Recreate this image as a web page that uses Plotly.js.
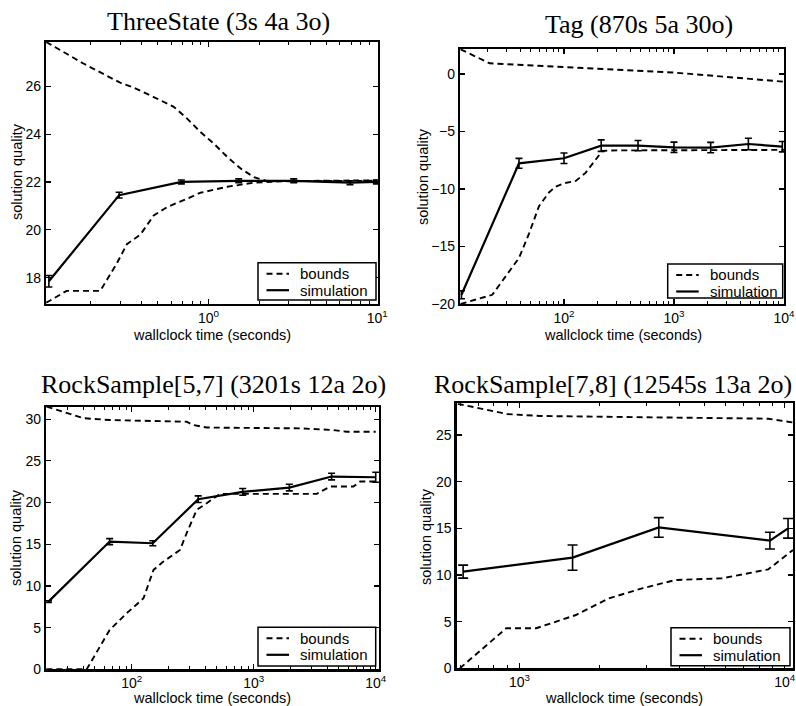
<!DOCTYPE html>
<html>
<head>
<meta charset="utf-8">
<script src="https://cdn.plot.ly/plotly-3.0.1.min.js"></script>
<style>html,body{margin:0;padding:0;background:#fff;}#chart{width:796px;height:706px;}</style>
</head>
<body>
<div id="chart"></div>
<script>
// ---------- DATA ----------
const titles = ["ThreeState (3s 4a 3o)", "Tag (870s 5a 30o)", "RockSample[5,7] (3201s 12a 2o)", "RockSample[7,8] (12545s 13a 2o)"];
const seriesNames = ["bounds", "simulation"];
const xAxisLabel = "wallclock time (seconds)";
const yAxisLabel = "solution quality";

// ThreeState
const ts_sim_x = [0.113, 0.295, 0.69, 1.51, 3.2, 6.9, 9.9];
const ts_sim_y = [17.85, 21.45, 22.0, 22.05, 22.05, 21.97, 22.0];
const ts_sim_err = [0.24, 0.12, 0.08, 0.08, 0.08, 0.08, 0.08];
const ts_upper_x = [0.109, 0.181, 0.299, 0.36, 0.473, 0.622, 0.746, 0.895, 1.076, 1.29, 1.55, 1.86, 2.24, 10];
const ts_upper_y = [27.85, 26.95, 26.15, 25.94, 25.55, 25.14, 24.65, 24.09, 23.6, 23.05, 22.56, 22.2, 22.03, 22.07];
const ts_lower_x = [0.109, 0.144, 0.228, 0.249, 0.286, 0.328, 0.394, 0.473, 0.568, 0.746, 0.895, 1.29, 1.86, 2.8, 10];
const ts_lower_y = [16.95, 17.45, 17.45, 17.9, 18.6, 19.4, 19.8, 20.6, 20.95, 21.3, 21.55, 21.8, 21.97, 22.03, 22.05];

// Tag
const tag_sim_x = [11.7, 39, 100, 218, 471, 1000, 2154, 4745, 9660];
const tag_sim_y = [-19.2, -7.77, -7.33, -6.23, -6.23, -6.38, -6.4, -6.09, -6.32];
const tag_sim_err = [0.35, 0.43, 0.46, 0.5, 0.45, 0.45, 0.45, 0.5, 0.45];
const tag_upper_x = [11.5, 21.1, 23.9, 194, 1000, 10000];
const tag_upper_y = [2.14, 0.93, 0.9, 0.49, 0.12, -0.67];
const tag_lower_x = [11.5, 22.3, 29.5, 39, 48, 59.3, 73, 84, 100, 128, 157, 194, 223, 256, 10000];
const tag_lower_y = [-20, -19.2, -17.6, -16.0, -13.9, -11.5, -10.3, -9.8, -9.5, -9.3, -8.6, -7.5, -6.7, -6.65, -6.6];

// RockSample[5,7]
const rs57_sim_x = [20.8, 66, 149, 351, 813, 1960, 4350, 10000];
const rs57_sim_y = [8.12, 15.32, 15.12, 20.4, 21.28, 21.8, 23.12, 23.04];
const rs57_sim_err = [0.1, 0.36, 0.3, 0.4, 0.4, 0.4, 0.4, 0.6];
const rs57_upper_x = [20.1, 40.2, 66, 282, 320, 412, 2400, 4500, 5780, 10000];
const rs57_upper_y = [31.52, 30.12, 29.9, 29.7, 29.3, 29.0, 28.9, 28.7, 28.5, 28.5];
const rs57_lower_x = [20, 42.8, 66, 91, 125, 151, 182, 249, 282, 341, 412, 530, 681, 3280, 4230, 6560, 7450, 10000];
const rs57_lower_y = [0, 0, 4.72, 6.72, 8.52, 11.92, 12.92, 14.32, 16.32, 19.12, 19.92, 21.04, 21.04, 21.04, 21.92, 21.92, 22.52, 22.52];

// RockSample[7,8]
const rs78_sim_x = [613, 1585, 3350, 8790, 10290];
const rs78_sim_y = [10.36, 11.86, 15.1, 13.68, 15.0];
const rs78_sim_err = [0.7, 1.35, 1.05, 0.9, 1.05];
const rs78_upper_x = [585, 713, 897, 1196, 2838, 8660, 10740];
const rs78_upper_y = [28.35, 27.86, 27.25, 27.04, 26.9, 26.75, 26.35];
const rs78_lower_x = [596, 891, 1155, 1631, 2175, 2900, 3870, 5788, 8660, 10740];
const rs78_lower_y = [0, 4.29, 4.29, 5.71, 7.5, 8.57, 9.46, 9.64, 10.6, 12.68];

// tick values / labels
const ts_xticks = [1, 10];
const ts_xlabels = ["10<sup>0</sup>", "10<sup>1</sup>"];
const tag_xticks = [100, 1000, 10000];
const tag_xlabels = ["10<sup>2</sup>", "10<sup>3</sup>", "10<sup>4</sup>"];
const rs57_xticks = [100, 1000, 10000];
const rs57_xlabels = ["10<sup>2</sup>", "10<sup>3</sup>", "10<sup>4</sup>"];
const rs78_xticks = [1000, 10000];
const rs78_xlabels = ["10<sup>3</sup>", "10<sup>4</sup>"];
const ts_yticks = [18, 20, 22, 24, 26];
const tag_yticks = [-20, -15, -10, -5, 0];
const rs57_yticks = [0, 5, 10, 15, 20, 25, 30];
const rs78_yticks = [0, 5, 10, 15, 20, 25];

// ---------- LAYOUT HELPERS ----------
const W = 796, H = 706;
const px = v => v / W;
const py = v => 1 - v / H;

const panels = [
  {box: [46, 378, 42, 304], xr: [-0.964, 1.005], yr: [16.9, 27.85], xt: ts_xticks, xl: ts_xlabels, yt: ts_yticks,
   sim: [ts_sim_x, ts_sim_y, ts_sim_err], up: [ts_upper_x, ts_upper_y], lo: [ts_lower_x, ts_lower_y], capw: 3.5,
   title: [218, 22], ytitle: [17, 172], xtitle: [212, 335], legend: [258, 376, 262.7, 300]},
  {box: [460, 784, 49, 304], xr: [1.055, 4.0], yr: [-20, 2.17], xt: tag_xticks, xl: tag_xlabels, yt: tag_yticks,
   sim: [tag_sim_x, tag_sim_y, tag_sim_err], up: [tag_upper_x, tag_upper_y], lo: [tag_lower_x, tag_lower_y], capw: 3.5,
   title: [639, 24], ytitle: [423, 177], xtitle: [623, 335], legend: [667.7, 782.7, 264, 298]},
  {box: [46, 379, 406.7, 669.3], xr: [1.298, 4.027], yr: [0, 31.5], xt: rs57_xticks, xl: rs57_xlabels, yt: rs57_yticks,
   sim: [rs57_sim_x, rs57_sim_y, rs57_sim_err], up: [rs57_upper_x, rs57_upper_y], lo: [rs57_lower_x, rs57_lower_y], capw: 3.5,
   title: [213.5, 384], ytitle: [16, 538], xtitle: [212, 698], legend: [258, 375.7, 627.3, 666]},
  {box: [456.5, 793, 403.3, 668.3], xr: [2.7625, 4.031], yr: [0, 28.4], xt: rs78_xticks, xl: rs78_xlabels, yt: rs78_yticks,
   sim: [rs78_sim_x, rs78_sim_y, rs78_sim_err], up: [rs78_upper_x, rs78_upper_y], lo: [rs78_lower_x, rs78_lower_y], capw: 5,
   title: [612.7, 384], ytitle: [426, 537], xtitle: [624, 698], legend: [671, 790, 627.7, 665.7]}
];

const tickFont = {family: "Liberation Sans, Arial, sans-serif", size: 14, color: "#000"};
const labelFont = {family: "Liberation Sans, Arial, sans-serif", size: 14.5, color: "#000"};
const legendFont = {family: "Liberation Sans, Arial, sans-serif", size: 15, color: "#000"};
const titleFont = {family: "Liberation Serif, Times New Roman, serif", size: 26, color: "#000"};
const dashStyle = "6px,4px";

const data = [];
const layout = {
  width: W, height: H, margin: {l: 0, r: 0, t: 0, b: 0},
  paper_bgcolor: "#fff", plot_bgcolor: "#fff", showlegend: false,
  annotations: [], shapes: []
};

panels.forEach((p, i) => {
  const n = i + 1;
  const xa = n === 1 ? "x" : "x" + n, ya = n === 1 ? "y" : "y" + n;
  data.push({x: p.up[0], y: p.up[1], xaxis: xa, yaxis: ya, mode: "lines", name: seriesNames[0],
             line: {color: "#000", width: 1.9, dash: dashStyle}, hoverinfo: "skip"});
  data.push({x: p.lo[0], y: p.lo[1], xaxis: xa, yaxis: ya, mode: "lines", name: seriesNames[0],
             line: {color: "#000", width: 1.9, dash: dashStyle}, hoverinfo: "skip"});
  data.push({x: p.sim[0], y: p.sim[1], xaxis: xa, yaxis: ya, mode: "lines", name: seriesNames[1],
             line: {color: "#000", width: 2.2},
             error_y: {type: "data", array: p.sim[2], visible: true, color: "#000", thickness: 1.6, width: p.capw}});

  const axCommon = {showline: true, linecolor: "#000", linewidth: 2.2, mirror: "ticks", ticks: "inside",
                    ticklen: 5, tickwidth: 1.2, tickcolor: "#000", showgrid: false, zeroline: false,
                    tickfont: tickFont, fixedrange: true};
  layout["xaxis" + (n === 1 ? "" : n)] = Object.assign({}, axCommon, {
    type: "log", domain: [px(p.box[0]), px(p.box[1])], range: p.xr, anchor: ya,
    tickmode: "array", tickvals: p.xt, ticktext: p.xl,
    minor: {ticks: "inside", ticklen: 3, tickwidth: 1, tickcolor: "#000", dtick: "D1", showgrid: false}
  });
  layout["yaxis" + (n === 1 ? "" : n)] = Object.assign({}, axCommon, {
    domain: [py(p.box[3]), py(p.box[2])], range: p.yr, anchor: xa,
    tickmode: "array", tickvals: p.yt
  });

  // legend box (drawn in paper space)
  const [lx0, lx1, ly0, ly1] = p.legend;
  const row1 = ly0 + 11, row2 = ly0 + 27.5;
  layout.shapes.push({type: "rect", xref: "paper", yref: "paper", x0: px(lx0), x1: px(lx1), y0: py(ly1), y1: py(ly0),
                      line: {color: "#000", width: 1.5}, fillcolor: "#fff", layer: "above"});
  layout.shapes.push({type: "line", xref: "paper", yref: "paper", x0: px(lx0 + 8.5), x1: px(lx0 + 31), y0: py(row1), y1: py(row1),
                      line: {color: "#000", width: 1.9, dash: dashStyle}, layer: "above"});
  layout.shapes.push({type: "line", xref: "paper", yref: "paper", x0: px(lx0 + 8.5), x1: px(lx0 + 31), y0: py(row2), y1: py(row2),
                      line: {color: "#000", width: 2.2}, layer: "above"});
  layout.annotations.push({text: seriesNames[0], x: px(lx0 + 41), y: py(row1), xref: "paper", yref: "paper",
                           xanchor: "left", yanchor: "middle", showarrow: false, font: legendFont, borderpad: 0});
  layout.annotations.push({text: seriesNames[1], x: px(lx0 + 41), y: py(row2), xref: "paper", yref: "paper",
                           xanchor: "left", yanchor: "middle", showarrow: false, font: legendFont, borderpad: 0});

  layout.annotations.push({text: titles[i], x: px(p.title[0]), y: py(p.title[1]), xref: "paper", yref: "paper",
                           xanchor: "center", yanchor: "middle", showarrow: false, font: titleFont});
  layout.annotations.push({text: yAxisLabel, x: px(p.ytitle[0]), y: py(p.ytitle[1]), xref: "paper", yref: "paper",
                           xanchor: "center", yanchor: "middle", textangle: -90, showarrow: false, font: labelFont});
  layout.annotations.push({text: xAxisLabel, x: px(p.xtitle[0]), y: py(p.xtitle[1]), xref: "paper", yref: "paper",
                           xanchor: "center", yanchor: "middle", showarrow: false, font: labelFont});
});

Plotly.newPlot("chart", data, layout, {displayModeBar: false, staticPlot: true});
</script>
</body>
</html>
